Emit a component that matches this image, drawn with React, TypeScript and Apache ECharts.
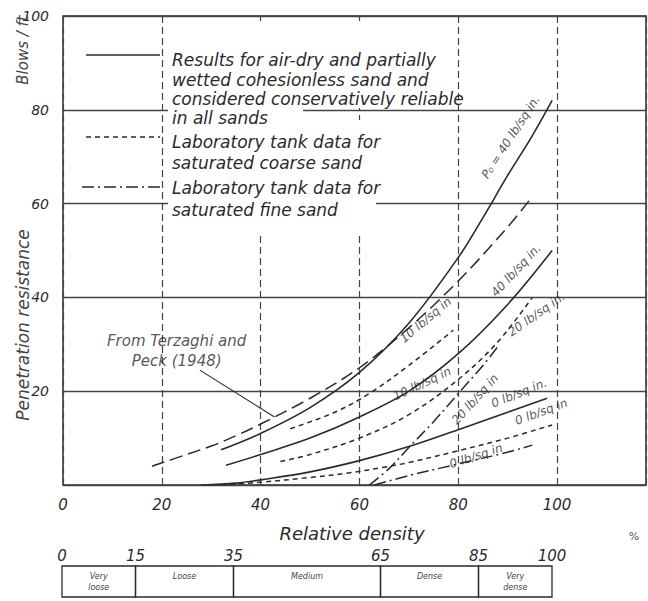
import { useEffect, useRef } from 'react';
import * as echarts from 'echarts';

const FONT = "'DejaVu Sans', sans-serif";
const INK = '#2a2a2a';

// Relative density (%) vs penetration resistance (blows/ft)
const terzaghiPeck = [[18, 4], [25, 6.5], [30, 8.3], [35, 10.5], [40, 13], [50, 18.5], [60, 25], [70, 33.5], [80, 43.5], [90, 55], [95, 61.5]];
const airDry40 = [[32, 7.5], [40, 11], [50, 16.5], [60, 24], [70, 34.5], [80, 48.5], [85, 57], [90, 66], [95, 74.5], [99, 82]];
const airDry10 = [[33, 4.2], [40, 6.5], [50, 10], [60, 14.5], [70, 20], [80, 28], [90, 38.5], [99, 50]];
const airDry0 = [[28, 0], [35, 0.4], [40, 1.1], [50, 2.8], [60, 5.2], [70, 8.2], [80, 11.8], [90, 15.5], [98, 18.5]];
const coarseUpper = [[46, 12], [55, 15.5], [62, 19.5], [70, 25.5], [79, 33]];
const coarseMiddle = [[44, 5], [50, 6.5], [60, 10], [70, 15], [80, 22.5], [88, 30.5], [95, 40]];
const coarseLower = [[32, 0], [40, 0.6], [50, 1.6], [58, 2.6], [65, 3.8], [70, 4.8], [80, 7.3], [90, 10], [99, 12.8]];
const fineSteep = [[62, 0], [66, 3.5], [70, 8], [75, 13.5], [80, 19.5], [85, 25.5], [88, 29.5]];
const fineLower = [[63, 0], [70, 2], [80, 4.5], [90, 7], [95, 8.5]];
const leaderLine = [[27.7, 24.5], [42.8, 14.5]];

const curveLabelText = ['P\u2080 = 40 lb/sq in.', '40 lb/sq in.', '10 lb/sq in', '20 lb/sq in.', '10 lb/sq in', '20 lb/sq in', '0 lb/sq in.', '0 lb/sq in', '0 lb/sq in'];
const curveLabelPos = [[90.6, 74.2], [91.7, 45.8], [73.4, 35.2], [95.8, 36.4], [72.7, 21.6], [83.4, 18.3], [92.3, 19.6], [96.8, 15.6], [83.6, 6.2]];
const curveLabelAngle = [57, 47, 40, 35, 25, 48, 22, 20, 18];
const sourceNote = 'From Terzaghi and\nPeck (1948)';
const sourceNotePos = [23.0, 28.6];

const xTicksMax = 118;
const densityBounds = [0, 15, 35, 65, 85, 100];
const densityClasses = ['Very\nloose', 'Loose', 'Medium', 'Dense', 'Very\ndense'];

const legendText = [
  'Results for air-dry and partially',
  'wetted cohesionless sand and',
  'considered conservatively reliable',
  'in all sands',
  'Laboratory tank data for',
  'saturated coarse sand',
  'Laboratory tank data for',
  'saturated fine sand',
];
const legendTextY = [60, 80, 99, 118, 142, 163, 188, 210];

const SOLID = 'solid';
const SHORT_DASH = [5, 4];
const LONG_DASH = [13, 6];
const DASH_DOT = [12, 4, 2, 4];

function curve(name: string, data: number[][], type: any, width = 1.5) {
  return {
    type: 'line',
    name,
    data,
    xAxisIndex: 0,
    yAxisIndex: 0,
    symbol: 'none',
    showSymbol: false,
    smooth: 0.35,
    silent: true,
    z: 3,
    lineStyle: { color: INK, width, type },
  };
}

const italic = { fontStyle: 'italic', fontFamily: FONT, color: INK };

function buildOption() {
  const legendGraphics: any[] = legendText.map((t, i) => ({
    type: 'text',
    z: 10,
    x: 172,
    y: legendTextY[i],
    style: { text: t, fill: INK, fontSize: 17, fontStyle: 'italic', fontFamily: FONT, verticalAlign: 'middle' },
  }));

  return {
    animation: false,
    backgroundColor: '#ffffff',
    grid: [
      { left: 63, right: 2, top: 16, bottom: 116, show: true, borderColor: INK, borderWidth: 1.5 },
      { left: 62, right: 96, top: 566, height: 31 },
    ],
    xAxis: [
      {
        type: 'value', gridIndex: 0, min: 0, max: xTicksMax, interval: 20,
        axisLine: { show: false }, axisTick: { show: false },
        axisLabel: { ...italic, fontSize: 15, margin: 12, showMaxLabel: false },
        splitLine: { show: true, lineStyle: { color: '#444', width: 1.2, type: [7, 4] } },
      },
      {
        type: 'value', gridIndex: 1, min: 0, max: 100, interval: 5, position: 'top',
        axisLine: { show: false }, axisTick: { show: false }, splitLine: { show: false },
        axisLabel: {
          ...italic, fontSize: 15, margin: 3,
          formatter: (v: number) => (densityBounds.includes(v) ? String(v) : ''),
        },
      },
    ],
    yAxis: [
      {
        type: 'value', gridIndex: 0, min: 0, max: 100, interval: 20,
        axisLine: { show: false }, axisTick: { show: false },
        axisLabel: { ...italic, fontSize: 14, margin: 14, showMinLabel: false },
        splitLine: { show: true, lineStyle: { color: '#444', width: 1.3 } },
      },
      { type: 'value', gridIndex: 1, min: 0, max: 1, show: false },
    ],
    series: [
      curve('Terzaghi and Peck', terzaghiPeck, LONG_DASH, 1.5),
      curve('air-dry 40', airDry40, SOLID, 1.6),
      curve('air-dry 10', airDry10, SOLID, 1.6),
      curve('air-dry 0', airDry0, SOLID, 1.6),
      curve('coarse upper', coarseUpper, SHORT_DASH, 1.5),
      curve('coarse middle', coarseMiddle, SHORT_DASH, 1.5),
      curve('coarse lower', coarseLower, SHORT_DASH, 1.5),
      curve('fine steep', fineSteep, DASH_DOT, 1.5),
      curve('fine lower', fineLower, DASH_DOT, 1.5),
      { ...curve('leader', leaderLine, SOLID, 1.1), smooth: false },
      {
        type: 'scatter', xAxisIndex: 0, yAxisIndex: 0, symbolSize: 1, silent: true, z: 5,
        itemStyle: { color: 'rgba(0,0,0,0)' },
        label: { show: true, position: 'inside', formatter: '{b}', ...italic, fontSize: 12 },
        data: curveLabelText.map((t, i) => ({ name: t, value: curveLabelPos[i], label: { rotate: curveLabelAngle[i] } })),
      },
      {
        type: 'scatter', xAxisIndex: 0, yAxisIndex: 0, symbolSize: 1, silent: true, z: 5,
        itemStyle: { color: 'rgba(0,0,0,0)' },
        label: { show: true, position: 'inside', formatter: '{b}', ...italic, fontSize: 15, lineHeight: 20, align: 'center' },
        data: [{ name: sourceNote, value: sourceNotePos }],
      },
      {
        type: 'custom', xAxisIndex: 1, yAxisIndex: 1, silent: true, clip: false,
        data: densityClasses.map((_, i) => [densityBounds[i], densityBounds[i + 1]]),
        renderItem: (params: any, api: any) => {
          const a = api.coord([api.value(0), 1]);
          const b = api.coord([api.value(1), 0]);
          return {
            type: 'group',
            children: [
              { type: 'rect', shape: { x: a[0], y: a[1], width: b[0] - a[0], height: b[1] - a[1] }, style: { fill: 'none', stroke: INK, lineWidth: 1.3 } },
              {
                type: 'text',
                style: {
                  text: densityClasses[params.dataIndex], x: (a[0] + b[0]) / 2, y: a[1] + 5,
                  align: 'center', verticalAlign: 'top', fontSize: 8, fontStyle: 'italic', fontFamily: FONT, fill: '#444', lineHeight: 11,
                },
              },
            ],
          };
        },
      },
    ],
    graphic: [
      { type: 'rect', z: 1, shape: { x: 168, y: 21, width: 135, height: 211 }, style: { fill: '#fff' } },
      { type: 'rect', z: 1, shape: { x: 303, y: 120, width: 73, height: 112 }, style: { fill: '#fff' } },
      { type: 'rect', z: 1, shape: { x: 340, y: 21, width: 36, height: 87 }, style: { fill: '#fff' } },
      { type: 'line', z: 10, shape: { x1: 86, y1: 55, x2: 160, y2: 55 }, style: { stroke: INK, lineWidth: 1.6 } },
      { type: 'line', z: 10, shape: { x1: 86, y1: 137, x2: 160, y2: 137 }, style: { stroke: INK, lineWidth: 1.5, lineDash: SHORT_DASH } },
      { type: 'line', z: 10, shape: { x1: 82, y1: 187, x2: 160, y2: 187 }, style: { stroke: INK, lineWidth: 1.5, lineDash: DASH_DOT } },
      ...legendGraphics,
      {
        type: 'text', z: 10, x: 23, y: 325, rotation: Math.PI / 2,
        style: { text: 'Penetration resistance', fill: '#444', fontSize: 17, fontStyle: 'italic', fontFamily: FONT, align: 'center', verticalAlign: 'middle' },
      },
      {
        type: 'text', z: 10, x: 23, y: 50, rotation: Math.PI / 2,
        style: { text: 'Blows / ft', fill: '#444', fontSize: 15, fontStyle: 'italic', fontFamily: FONT, align: 'center', verticalAlign: 'middle' },
      },
      {
        type: 'text', z: 10, x: 352, y: 533,
        style: { text: 'Relative density', fill: INK, fontSize: 18, fontStyle: 'italic', fontFamily: FONT, align: 'center', verticalAlign: 'middle' },
      },
      {
        type: 'text', z: 10, x: 634, y: 536,
        style: { text: '%', fill: '#555', fontSize: 11, fontFamily: FONT, align: 'center', verticalAlign: 'middle' },
      },
    ],
  };
}

export default function App() {
  const ref = useRef<HTMLDivElement>(null);
  useEffect(() => {
    if (!ref.current) return;
    const chart = echarts.init(ref.current, null, { renderer: 'svg' });
    chart.setOption(buildOption() as any);
    return () => chart.dispose();
  }, []);
  return (
    <div
      ref={ref}
      style={{ position: 'fixed', left: 0, top: 0, width: 648, height: 601, background: '#fff' }}
    />
  );
}
